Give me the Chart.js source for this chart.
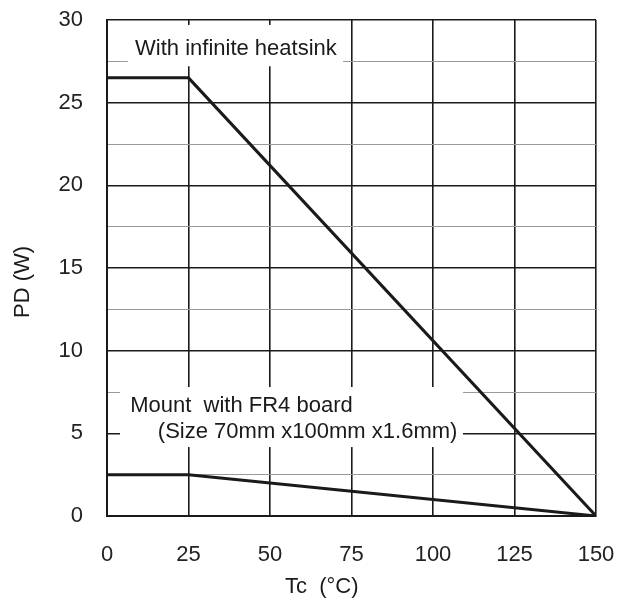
<!DOCTYPE html>
<html>
<head>
<meta charset="utf-8">
<script src="https://cdn.jsdelivr.net/npm/chart.js@4"></script>
<style>
  html, body { margin: 0; padding: 0; background: #fff; }
  canvas { display: block; }
</style>
</head>
<body>
<canvas id="chart" width="619" height="610"></canvas>
<script>
// --- Data ---
const xTicks = [0, 25, 50, 75, 100, 125, 150];
const yTicks = [0, 5, 10, 15, 20, 25, 30];
const tcPoints = [0, 25, 150];
const pdInfinite = [26.5, 26.5, 0];
const pdFR4 = [2.5, 2.5, 0];

const FONT = '"Liberation Sans", Arial, sans-serif';
const INK = '#1a1a1a';

// labels sitting on the grid, anchored in data units
const notes = [
    { box: [6.4, 72.4, 29.7, 27.2], lines: [{ x: 8.6, y: 27.9, text: 'With infinite heatsink' }] },
    { box: [4, 109.2, 7.8, 4.17], lines: [
        { x: 7.1, y: 6.29, text: 'Mount  with FR4 board' },
        { x: 15.6, y: 4.72, text: '(Size 70mm x100mm x1.6mm)' }
    ] }
];

function toPoints(ys) {
    return tcPoints.map((x, i) => ({ x: x, y: ys[i] }));
}

const notesPlugin = {
    id: 'notes',
    beforeDatasetsDraw(chart) {
        const ctx = chart.ctx;
        const xs = chart.scales.x, ys = chart.scales.y;
        ctx.save();
        notes.forEach(n => {
            const x0 = xs.getPixelForValue(n.box[0]), x1 = xs.getPixelForValue(n.box[1]);
            const y0 = ys.getPixelForValue(n.box[2]), y1 = ys.getPixelForValue(n.box[3]);
            ctx.fillStyle = '#fff';
            ctx.fillRect(x0, y0, x1 - x0, y1 - y0);
            ctx.fillStyle = INK;
            ctx.font = '22px ' + FONT;
            ctx.textBaseline = 'alphabetic';
            ctx.textAlign = 'left';
            n.lines.forEach(l => {
                ctx.fillText(l.text, xs.getPixelForValue(l.x), ys.getPixelForValue(l.y));
            });
        });
        ctx.restore();
    },
    afterDraw(chart) {
        // axis titles (off-centre in the original)
        const ctx = chart.ctx;
        ctx.save();
        ctx.fillStyle = INK;
        ctx.font = '22px ' + FONT;
        ctx.textAlign = 'left';
        ctx.textBaseline = 'alphabetic';
        ctx.fillText('Tc  (°C)', 285, 593);
        ctx.translate(23, 282);
        ctx.rotate(-Math.PI / 2);
        ctx.textAlign = 'center';
        ctx.textBaseline = 'middle';
        ctx.fillText('PD (W)', 0, 0);
        ctx.restore();
    }
};

new Chart(document.getElementById('chart'), {
    type: 'line',
    data: {
        datasets: [
            { data: toPoints(pdInfinite), borderColor: INK, borderWidth: 3 },
            { data: toPoints(pdFR4), borderColor: INK, borderWidth: 3 }
        ]
    },
    options: {
        responsive: false,
        devicePixelRatio: 1,
        animation: false,
        layout: { padding: { top: 20, right: 23, left: 0, bottom: 0 } },
        elements: { point: { radius: 0 }, line: { tension: 0 } },
        plugins: { legend: { display: false }, tooltip: { enabled: false } },
        scales: {
            x: {
                type: 'linear',
                min: 0,
                max: 150,
                afterBuildTicks: s => { s.ticks = xTicks.map(v => ({ value: v })); },
                afterFit: s => { s.height = 94; s.paddingLeft = 0; s.paddingRight = 0; },
                grid: { color: INK, lineWidth: 1.6, drawTicks: false },
                border: { color: INK, width: 2 },
                ticks: { padding: 26, color: '#222', maxRotation: 0, font: { size: 22, family: FONT } }
            },
            y: {
                min: 0,
                max: 30,
                afterFit: s => { s.width = 107; s.paddingTop = 0; s.paddingBottom = 0; },
                grid: {
                    drawTicks: false,
                    color: c => (c.tick && c.tick.value % 5 === 0) ? INK : '#9a9a9a',
                    lineWidth: c => (c.tick && c.tick.value % 5 === 0) ? 1.6 : 1
                },
                border: { color: INK, width: 2 },
                ticks: {
                    stepSize: 2.5,
                    padding: 24,
                    color: '#222',
                    font: { size: 22, family: FONT },
                    callback: v => yTicks.includes(v) ? v : ''
                }
            }
        }
    },
    plugins: [notesPlugin]
});
</script>
</body>
</html>
